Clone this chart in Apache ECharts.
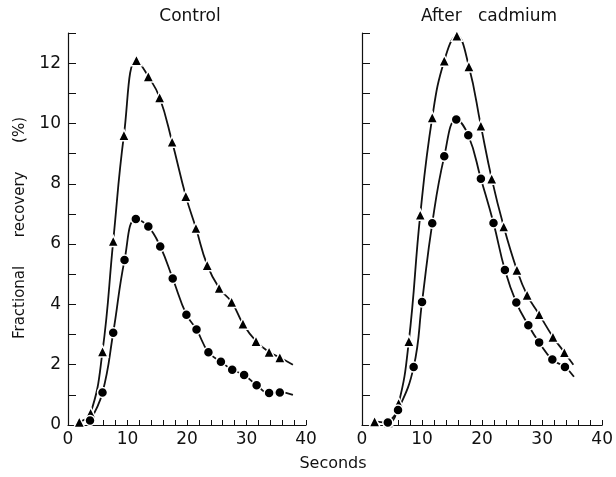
<!DOCTYPE html>
<html>
<head>
<meta charset="utf-8">
<script src="https://cdn.jsdelivr.net/npm/echarts@6/dist/echarts.min.js"></script>
<style>
  html, body { margin: 0; padding: 0; background: #fff; }
  #chart { width: 616px; height: 477px; }
</style>
</head>
<body>
<div id="chart"></div>
<script>
// Panel titles and axis text
const panelTitles = ['Control', 'After   cadmium'];
const yAxisTitle = 'Fractional      recovery      (%)';
const xAxisTitle = 'Seconds';

// Control: triangles (time s, recovery %)
const controlTriT = [1.9, 3.8, 5.8, 7.6, 9.4, 11.5, 13.5, 15.4, 17.5, 19.8, 21.5, 23.4, 25.4, 27.5, 29.4, 31.6, 33.8, 35.6];
const controlTriV = [0.1, 0.4, 2.44, 6.1, 9.61, 12.1, 11.56, 10.86, 9.39, 7.59, 6.53, 5.3, 4.54, 4.08, 3.36, 2.78, 2.42, 2.24];
const controlTriTail = [37.8, 2.0];

// Control: circles
const controlCirT = [3.7, 5.8, 7.6, 9.5, 11.4, 13.5, 15.5, 17.6, 19.9, 21.6, 23.6, 25.7, 27.6, 29.6, 31.7, 33.8, 35.6];
const controlCirV = [0.15, 1.08, 3.06, 5.47, 6.83, 6.58, 5.92, 4.86, 3.66, 3.17, 2.41, 2.1, 1.83, 1.66, 1.32, 1.06, 1.08];
const controlCirTail = [37.8, 1.0];

// After cadmium: triangles
const cadTriT = [2.1, 4.4, 6.1, 7.8, 9.7, 11.7, 13.7, 15.8, 17.8, 19.8, 21.6, 23.6, 25.8, 27.5, 29.5, 31.8, 33.7];
const cadTriV = [0.12, 0.08, 0.72, 2.78, 6.97, 10.2, 12.08, 12.91, 11.89, 9.92, 8.17, 6.58, 5.14, 4.31, 3.67, 2.92, 2.41];
const cadTriTail = [35.2, 2.0];

// After cadmium: circles
const cadCirT = [4.3, 6.0, 8.6, 10.0, 11.7, 13.7, 15.7, 17.7, 19.8, 21.9, 23.8, 25.7, 27.7, 29.5, 31.7, 33.8];
const cadCirV = [0.08, 0.5, 1.92, 4.08, 6.69, 8.91, 10.13, 9.61, 8.17, 6.7, 5.14, 4.06, 3.31, 2.74, 2.17, 1.92];
const cadCirTail = [35.3, 1.6];

const FONT = 'DejaVu Sans';
const INK = '#111';

const zip = (t, v) => t.map((x, i) => [x, v[i]]);

function curve(t, v, tail, idx) {
  return {
    type: 'line', xAxisIndex: idx, yAxisIndex: idx,
    data: zip(t, v).concat([tail]),
    smooth: 0.45, showSymbol: false,
    lineStyle: { color: INK, width: 1.8 }, z: 2, silent: true
  };
}
function marks(t, v, sym, size, idx) {
  return {
    type: 'scatter', xAxisIndex: idx, yAxisIndex: idx,
    data: zip(t, v), symbol: sym, symbolSize: size,
    itemStyle: { color: '#000', borderColor: '#fff', borderWidth: 1.5, opacity: 1 }, z: 3, silent: true
  };
}

// Ticks point into the plot area
function xAx(idx) {
  return {
    type: 'value', gridIndex: idx, min: 0, max: 40, interval: 2,
    axisLine: { show: true, onZero: false, lineStyle: { color: INK, width: 1.2 } },
    axisTick: { show: true, inside: true, length: 5, lineStyle: { color: INK, width: 1 } },
    axisLabel: { fontFamily: FONT, fontSize: 17, color: INK, margin: 6, hideOverlap: false,
      showMaxLabel: true, formatter: v => (v % 10 === 0 ? String(v) : '') },
    splitLine: { show: false }
  };
}
function yAx(idx, labels) {
  return {
    type: 'value', gridIndex: idx, min: 0, max: 13, interval: 1,
    axisLine: { show: true, onZero: false, lineStyle: { color: INK, width: 1.2 } },
    axisTick: { show: true, inside: true, length: 8, lineStyle: { color: INK, width: 1 } },
    axisLabel: { show: labels, fontFamily: FONT, fontSize: 17, color: INK, margin: 7,
      formatter: v => (v % 2 === 0 && v <= 12 ? String(v) : '') },
    splitLine: { show: false }
  };
}

const chart = echarts.init(document.getElementById('chart'), null, { renderer: 'canvas' });
chart.setOption({
  animation: false,
  backgroundColor: '#fff',
  grid: [
    { left: 68, top: 33, width: 238, bottom: 52 },
    { left: 362, top: 33, width: 241, bottom: 52 }
  ],
  title: [
    { text: panelTitles[0], left: 185, top: 3, textAlign: 'center',
      textStyle: { fontFamily: FONT, fontSize: 17, fontWeight: 'normal', color: INK } },
    { text: panelTitles[1], left: 484, top: 3, textAlign: 'center',
      textStyle: { fontFamily: FONT, fontSize: 17, fontWeight: 'normal', color: INK } }
  ],
  xAxis: [xAx(0), xAx(1)],
  yAxis: [yAx(0, true), yAx(1, false)],
  graphic: [
    { type: 'text', x: 20, y: 228, rotation: Math.PI / 2, silent: true,
      style: { text: yAxisTitle, fontFamily: FONT, fontSize: 15, fill: INK,
        textAlign: 'center', textVerticalAlign: 'middle' } },
    { type: 'text', x: 333, y: 464, silent: true,
      style: { text: xAxisTitle, fontFamily: FONT, fontSize: 16, fill: INK,
        textAlign: 'center', textVerticalAlign: 'middle' } }
  ],
  series: [
    curve(controlTriT, controlTriV, controlTriTail, 0),
    curve(controlCirT, controlCirV, controlCirTail, 0),
    curve(cadTriT, cadTriV, cadTriTail, 1),
    curve(cadCirT, cadCirV, cadCirTail, 1),
    marks(controlTriT, controlTriV, 'triangle', 11, 0),
    marks(controlCirT, controlCirV, 'circle', 10, 0),
    marks(cadTriT, cadTriV, 'triangle', 11, 1),
    marks(cadCirT, cadCirV, 'circle', 10, 1)
  ]
});
</script>
</body>
</html>
